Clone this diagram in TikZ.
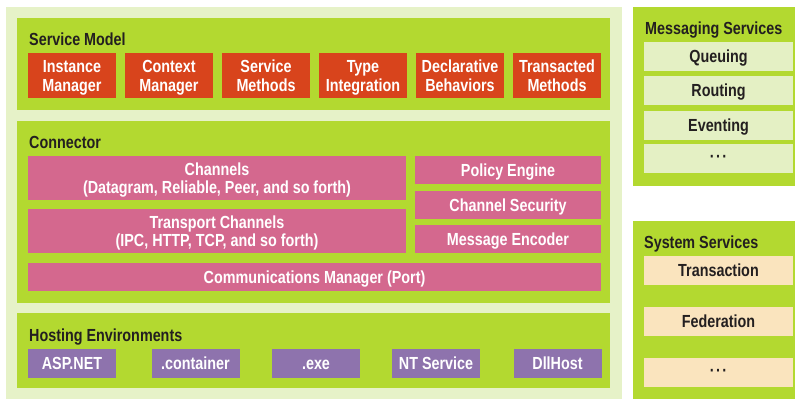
\documentclass[tikz,border=0pt]{standalone}
\usepackage{fontspec}
\setmainfont{Liberation Sans}[FakeStretch=0.82]
\definecolor{pale}{HTML}{E6F2C8}
\definecolor{brightgreen}{HTML}{B3D930}
\definecolor{orangec}{HTML}{D8441C}
\definecolor{pinkc}{HTML}{D4688E}
\definecolor{purplec}{HTML}{8E73AD}
\definecolor{itemgreen}{HTML}{E4F0C4}
\definecolor{peach}{HTML}{FAE4BE}
\definecolor{darktext}{HTML}{231F20}
\tikzset{
  panel/.style={fill=pale, inner sep=0pt, outer sep=0pt},
  grn/.style={fill=brightgreen, inner sep=0pt, outer sep=0pt},
  cell/.style={inner sep=0pt, outer sep=0pt, align=center, text height=12.5pt, text depth=0pt,
    font=\fontsize{17.5}{18.5}\selectfont\bfseries},
  twoline/.style={text height=31pt},
  orangecell/.style={cell, twoline, fill=orangec, text=white, minimum width=88pt, minimum height=45pt},
  pinkcell/.style={cell, fill=pinkc, text=white},
  purplecell/.style={cell, fill=purplec, text=white, minimum width=88pt, minimum height=29pt},
  msgcell/.style={cell, fill=itemgreen, text=darktext, minimum width=149pt, minimum height=29pt},
  syscell/.style={cell, fill=peach, text=darktext, minimum width=149pt, minimum height=29pt},
  dots/.style={text height=8pt},
  title/.style={anchor=base west, inner sep=0pt, text=darktext, font=\fontsize{17.5}{18}\selectfont\bfseries}
}
\begin{document}
\begin{tikzpicture}[x=1pt, y=-1pt]
\useasboundingbox (0,0) rectangle (795,399);
% outer panel
\node[panel, minimum width=616pt, minimum height=392pt] (outer) at (314,203) {};
% green containers
\node[grn, minimum width=593pt, minimum height=92pt] (sm) at (313.5,64) {};
\node[grn, minimum width=593pt, minimum height=182pt] (con) at (313.5,212) {};
\node[grn, minimum width=593pt, minimum height=75pt] (host) at (313.5,350.5) {};
\node[grn, minimum width=162pt, minimum height=179pt] (msg) at (714,96.5) {};
\node[grn, minimum width=162pt, minimum height=178pt] (sys) at (714,310) {};
% titles
\node[title] (smt) at (29,45) {Service Model};
\node[title] (cont) at (29,148) {Connector};
\node[title] (hostt) at (29,341) {Hosting Environments};
\node[title] (msgt) at (645,34) {Messaging Services};
\node[title] (syst) at (644,248) {System Services};
% service model cells
\node[orangecell] (im) at (72,75.5) {Instance\\Manager};
\node[orangecell] (cm) at (169,75.5) {Context\\Manager};
\node[orangecell] (smeth) at (266,75.5) {Service\\Methods};
\node[orangecell] (ti) at (363,75.5) {Type\\Integration};
\node[orangecell] (db) at (460,75.5) {Declarative\\Behaviors};
\node[orangecell] (tm) at (557,75.5) {Transacted\\Methods};
% connector cells
\node[pinkcell, twoline, minimum width=378pt, minimum height=44pt] (ch) at (217,178) {Channels\\(Datagram, Reliable, Peer, and so forth)};
\node[pinkcell, twoline, minimum width=378pt, minimum height=44pt] (tc) at (217,231) {Transport Channels\\(IPC, HTTP, TCP, and so forth)};
\node[pinkcell, minimum width=573pt, minimum height=28pt] (comm) at (314.5,277) {Communications Manager (Port)};
\node[pinkcell, minimum width=186pt, minimum height=28pt] (pe) at (508,170) {Policy Engine};
\node[pinkcell, minimum width=186pt, minimum height=28pt] (cs) at (508,205) {Channel Security};
\node[pinkcell, minimum width=186pt, minimum height=28pt] (me) at (508,239) {Message Encoder};
% hosting cells
\node[purplecell] (asp) at (72,363.5) {ASP.NET};
\node[purplecell] (ctr) at (195.5,363.5) {.container};
\node[purplecell] (exe) at (316,363.5) {.exe};
\node[purplecell] (nt) at (436,363.5) {NT Service};
\node[purplecell] (dll) at (557.5,363.5) {DllHost};
% messaging cells
\node[msgcell] (q) at (718.5,56.5) {Queuing};
\node[msgcell] (r) at (718.5,90.5) {Routing};
\node[msgcell] (e) at (718.5,125) {Eventing};
\node[msgcell, dots] (md) at (718.5,158.5) {·\kern1.5pt·\kern1.5pt·};
% system cells
\node[syscell] (tr) at (718.5,270) {Transaction};
\node[syscell] (fed) at (718.5,321.5) {Federation};
\node[syscell, dots] (sd) at (718.5,372.5) {·\kern1.5pt·\kern1.5pt·};
\end{tikzpicture}
\end{document}
